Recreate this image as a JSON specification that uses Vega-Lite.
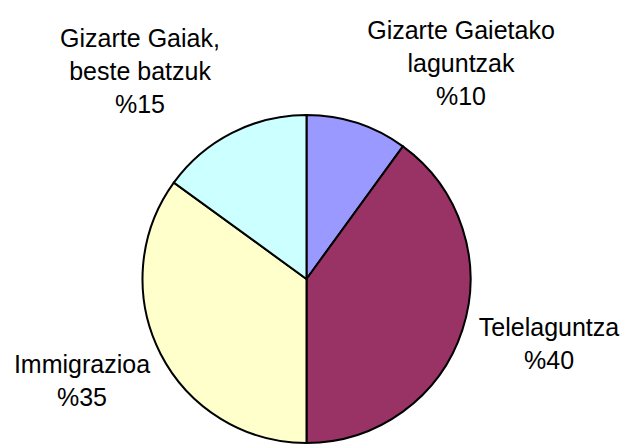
{
  "$schema": "https://vega.github.io/schema/vega-lite/v6.json",
  "width": 613,
  "height": 328,
  "autosize": "none",
  "padding": {"left": 0, "top": 115, "right": 13, "bottom": 1},
  "background": "white",
  "config": {"view": {"stroke": null}},
  "data": {
    "values": [
      {"cat": "Gizarte Gaietako laguntzak", "value": 10, "order": 1, "label": "Gizarte Gaietako\nlaguntzak\n%10"},
      {"cat": "Telelaguntza", "value": 40, "order": 2, "label": "Telelaguntza\n%40"},
      {"cat": "Immigrazioa", "value": 35, "order": 3, "label": "Immigrazioa\n%35"},
      {"cat": "Gizarte Gaiak, beste batzuk", "value": 15, "order": 4, "label": "Gizarte Gaiak,\nbeste batzuk\n%15"}
    ]
  },
  "encoding": {
    "theta": {"field": "value", "type": "quantitative", "stack": true},
    "order": {"field": "order", "type": "quantitative"}
  },
  "layer": [
    {
      "mark": {"type": "arc", "outerRadius": 164, "stroke": "black", "strokeWidth": 2},
      "encoding": {
        "color": {
          "field": "cat", "type": "nominal",
          "scale": {
            "domain": ["Gizarte Gaietako laguntzak", "Telelaguntza", "Immigrazioa", "Gizarte Gaiak, beste batzuk"],
            "range": ["#9999FF", "#993366", "#FFFFCC", "#CCFFFF"]
          },
          "legend": null
        }
      }
    },
    {
      "mark": {"type": "text", "radius": 200, "dx": 92.7, "dy": -57.8, "fontSize": 25, "font": "Liberation Sans", "lineBreak": "\n", "lineHeight": 33, "align": "center", "baseline": "middle", "color": "black"},
      "encoding": {"text": {"condition": {"test": "datum.order == 1", "field": "label"}, "value": ""}}
    },
    {
      "mark": {"type": "text", "radius": 200, "dx": 52.3, "dy": -13.3, "fontSize": 25, "font": "Liberation Sans", "lineBreak": "\n", "lineHeight": 33, "align": "center", "baseline": "middle", "color": "black"},
      "encoding": {"text": {"condition": {"test": "datum.order == 2", "field": "label"}, "value": ""}}
    },
    {
      "mark": {"type": "text", "radius": 200, "dx": -46.3, "dy": -4.3, "fontSize": 25, "font": "Liberation Sans", "lineBreak": "\n", "lineHeight": 33, "align": "center", "baseline": "middle", "color": "black"},
      "encoding": {"text": {"condition": {"test": "datum.order == 3", "field": "label"}, "value": ""}}
    },
    {
      "mark": {"type": "text", "radius": 200, "dx": -75.7, "dy": -61.8, "fontSize": 25, "font": "Liberation Sans", "lineBreak": "\n", "lineHeight": 33, "align": "center", "baseline": "middle", "color": "black"},
      "encoding": {"text": {"condition": {"test": "datum.order == 4", "field": "label"}, "value": ""}}
    }
  ]
}
